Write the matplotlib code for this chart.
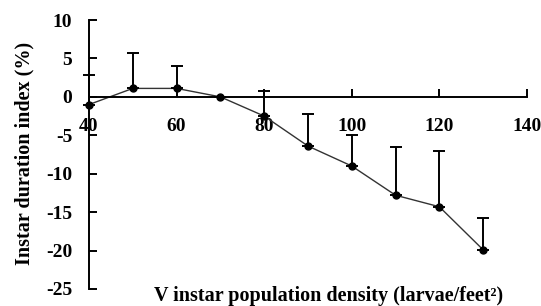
import matplotlib.pyplot as plt

# V instar population density (larvae/feet^2)
density = [40, 50, 60, 70, 80, 90, 100, 110, 120, 130]
# instar duration index (%)
index = [-1.0, 1.1, 1.1, 0.0, -2.5, -6.4, -9.0, -12.8, -14.3, -19.9]
# upper error (only the upper half is drawn)
err_up = [3.8, 4.6, 2.9, 0.0, 3.3, 4.2, 4.0, 6.3, 7.2, 4.2]
err_low = [0] * len(err_up)

plt.rcParams["font.family"] = ["Liberation Serif", "DejaVu Serif"]
plt.rcParams["font.weight"] = "bold"
plt.rcParams["axes.unicode_minus"] = False

fig = plt.figure(figsize=(5.41, 3.06), dpi=100)
ax = fig.add_axes([0.1645, 0.0556, 0.8095, 0.879])

ax.plot(density, index, color="#333333", linewidth=1.0, zorder=2, clip_on=False)
eb = ax.errorbar(density, index, yerr=[err_low, err_up], fmt="none",
                 ecolor="black", elinewidth=1.4, capsize=4.5, capthick=1.4,
                 zorder=3)
for art in eb.lines[1] + eb.lines[2]:
    art.set_clip_on(False)
ax.plot(density, index, "o", color="black", markersize=5, zorder=4, clip_on=False)

ax.set_xlim(40, 140)
ax.set_ylim(-25, 10)
ax.set_xticks(range(40, 141, 20))
ax.set_yticks(range(-25, 11, 5))

ax.spines["top"].set_visible(False)
ax.spines["right"].set_visible(False)
ax.spines["bottom"].set_position(("data", 0))
for s in ("left", "bottom"):
    ax.spines[s].set_linewidth(1.4)

ax.tick_params(axis="x", direction="in", length=6, width=1.4, pad=15, labelsize=14)
ax.tick_params(axis="y", direction="in", length=6, width=1.4, pad=12, labelsize=14)
for lab in ax.get_xticklabels() + ax.get_yticklabels():
    lab.set_fontweight("bold")

fig.text(0.607, 0.033, "V instar population density (larvae/feet\u00b2)",
         ha="center", va="center", fontsize=14.5, fontweight="bold")
fig.text(0.046, 0.50, "Instar duration index (%)", rotation=90,
         ha="center", va="center", fontsize=14.5, fontweight="bold")

fig.savefig("out.png", dpi=100)
